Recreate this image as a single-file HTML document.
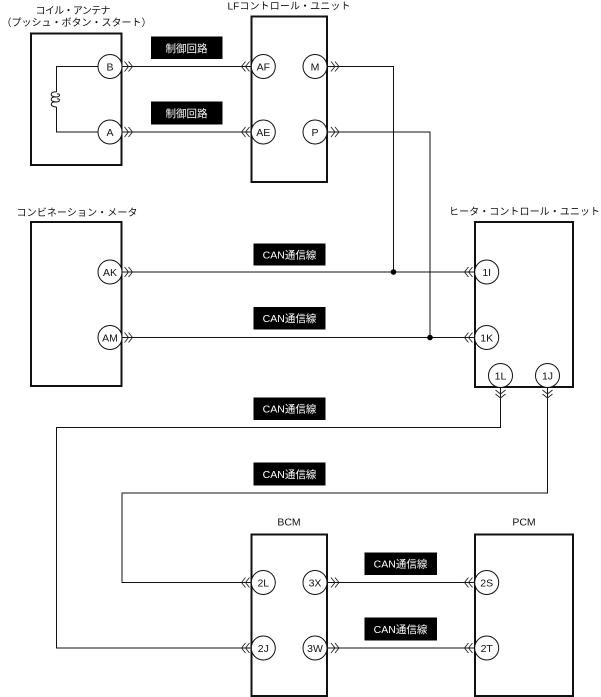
<!DOCTYPE html>
<html lang="ja">
<head>
<meta charset="utf-8">
<style>
html,body{margin:0;padding:0;background:#fff}
svg{display:block}
text{font-family:"Liberation Sans","Noto Sans CJK JP",sans-serif;font-size:10.5px;fill:#111;text-anchor:middle}
.t{font-size:10px}
.w{fill:#fff}
.b{fill:none;stroke:#111;stroke-width:2}
.l{fill:none;stroke:#111;stroke-width:1}
.c{fill:#fff;stroke:#111;stroke-width:1}
.a{fill:none;stroke:#222;stroke-width:.9}
</style>
</head>
<body>
<svg width="601" height="697" viewBox="0 0 601 697" xmlns="http://www.w3.org/2000/svg">
<!-- connectors -->
<path class="l" d="M121 66.5H251M121 132H251"/>
<path class="l" d="M327 66.5H393.5V272M327 132H430V337.5"/>
<path class="l" d="M121 272H475M121 337.5H475"/>
<path class="l" d="M500.5 387V427.5H56.5V648H251"/>
<path class="l" d="M547.5 387V493H122V582.5H251"/>
<path class="l" d="M327 582.5H475M327 648H475"/>
<!-- coil wiring -->
<path class="l" d="M110 66.5H56.5V92M110 132H56.5V107"/>
<path class="l" d="M56.5 92C50 91 49 97 56 97C61 97 60 93 57 94M56.5 97C50 96 49 102 56 102C61 102 60 98 57 99M56.5 102C50 101 49 107 56.5 107"/>
<circle cx="393.5" cy="272" r="2.8" fill="#000"/>
<circle cx="430" cy="337.5" r="2.8" fill="#000"/>
<!-- boxes -->
<rect class="b" x="31" y="33.5" width="90.5" height="131.5"/>
<rect class="b" x="251.5" y="16.5" width="75.5" height="165.5"/>
<rect class="b" x="31" y="222" width="90.5" height="164"/>
<rect class="b" x="475" y="222" width="98" height="165"/>
<rect class="b" x="251.5" y="534.5" width="75.5" height="161.5"/>
<rect class="b" x="475" y="534.5" width="98" height="161.5"/>
<!-- right-pointing chevrons -->
<path class="a" d="M124.500 61.500L128.500 66.500L124.500 71.500M128.500 61.500L132.500 66.500L128.500 71.500"/>
<path class="a" d="M124.500 127L128.500 132L124.500 137M128.500 127L132.500 132L128.500 137"/>
<path class="a" d="M331 61.500L335 66.500L331 71.500M335 61.500L339 66.500L335 71.500"/>
<path class="a" d="M331 127L335 132L331 137M335 127L339 132L335 137"/>
<path class="a" d="M124.500 267L128.500 272L124.500 277M128.500 267L132.500 272L128.500 277"/>
<path class="a" d="M124.500 332.500L128.500 337.500L124.500 342.500M128.500 332.500L132.500 337.500L128.500 342.500"/>
<path class="a" d="M331 577.500L335 582.500L331 587.500M335 577.500L339 582.500L335 587.500"/>
<path class="a" d="M331 643L335 648L331 653M335 643L339 648L335 653"/>
<!-- left-pointing chevrons -->
<path class="a" d="M245.500 61.500L241.500 66.500L245.500 71.500M249.500 61.500L245.500 66.500L249.500 71.500"/>
<path class="a" d="M245.500 127L241.500 132L245.500 137M249.500 127L245.500 132L249.500 137"/>
<path class="a" d="M468.500 267L464.500 272L468.500 277M472.500 267L468.500 272L472.500 277"/>
<path class="a" d="M468.500 332.500L464.500 337.500L468.500 342.500M472.500 332.500L468.500 337.500L472.500 342.500"/>
<path class="a" d="M245.500 577.500L241.500 582.500L245.500 587.500M249.500 577.500L245.500 582.500L249.500 587.500"/>
<path class="a" d="M245.500 643L241.500 648L245.500 653M249.500 643L245.500 648L249.500 653"/>
<path class="a" d="M468.500 577.500L464.500 582.500L468.500 587.500M472.500 577.500L468.500 582.500L472.500 587.500"/>
<path class="a" d="M468.500 643L464.500 648L468.500 653M472.500 643L468.500 648L472.500 653"/>
<!-- down-pointing chevrons -->
<path class="a" d="M495.500 390L500.500 394L505.500 390M495.500 394L500.500 398L505.500 394"/>
<path class="a" d="M542.500 390L547.500 394L552.500 390M542.500 394L547.500 398L552.500 394"/>
<!-- terminals -->
<g>
<circle class="c" cx="110" cy="66.500" r="12"/><circle class="c" cx="110" cy="132" r="12"/>
<circle class="c" cx="263.300" cy="66.500" r="12"/><circle class="c" cx="263.300" cy="132" r="12"/>
<circle class="c" cx="315" cy="66.500" r="12"/><circle class="c" cx="315" cy="132" r="12"/>
<circle class="c" cx="110" cy="272" r="12"/><circle class="c" cx="110" cy="337.500" r="12"/>
<circle class="c" cx="486.700" cy="272" r="12"/><circle class="c" cx="486.700" cy="337.500" r="12"/>
<circle class="c" cx="500.500" cy="375.500" r="12"/><circle class="c" cx="547.500" cy="375.500" r="12"/>
<circle class="c" cx="263.300" cy="582.500" r="12"/><circle class="c" cx="315" cy="582.500" r="12"/>
<circle class="c" cx="263.300" cy="648" r="12"/><circle class="c" cx="315" cy="648" r="12"/>
<circle class="c" cx="486.700" cy="582.500" r="12"/><circle class="c" cx="486.700" cy="648" r="12"/>
</g>
<text x="110" y="70.500">B</text><text x="110" y="136">A</text>
<text x="263.300" y="70.500">AF</text><text x="263.300" y="136">AE</text>
<text x="315" y="70.500">M</text><text x="315" y="136">P</text>
<text x="110" y="276">AK</text><text x="110" y="341.500">AM</text>
<text x="486.700" y="276">1I</text><text x="486.700" y="341.500">1K</text>
<text x="500.500" y="379.500">1L</text><text x="547.500" y="379.500">1J</text>
<text x="263.300" y="586.500">2L</text><text x="315" y="586.500">3X</text>
<text x="263.300" y="652">2J</text><text x="315" y="652">3W</text>
<text x="486.700" y="586.500">2S</text><text x="486.700" y="652">2T</text>
<!-- black labels -->
<rect x="151" y="36.500" width="71.500" height="22.500" fill="#000"/>
<rect x="151" y="101.500" width="71.500" height="23" fill="#000"/>
<rect x="253.500" y="243.500" width="72" height="22" fill="#000"/>
<rect x="253.500" y="307" width="72" height="22.500" fill="#000"/>
<rect x="253.500" y="397.500" width="72" height="22.500" fill="#000"/>
<rect x="253.500" y="462.500" width="72" height="23" fill="#000"/>
<rect x="364.500" y="552.500" width="72.500" height="22.500" fill="#000"/>
<rect x="364.500" y="617.500" width="72.500" height="23" fill="#000"/>
<text class="w" x="186.500" y="52">制御回路</text>
<text class="w" x="186.500" y="117">制御回路</text>
<text class="w" x="289.500" y="258.500">CAN通信線</text>
<text class="w" x="289.500" y="322">CAN通信線</text>
<text class="w" x="289.500" y="412.500">CAN通信線</text>
<text class="w" x="289.500" y="478">CAN通信線</text>
<text class="w" x="400.500" y="567.500">CAN通信線</text>
<text class="w" x="400.500" y="633">CAN通信線</text>
<!-- titles -->
<text class="t" x="73" y="14" textLength="75" lengthAdjust="spacing">コイル・アンテナ</text>
<text class="t" x="76.500" y="26" textLength="150" lengthAdjust="spacing">（プッシュ・ボタン・スタート）</text>
<text class="t" x="289" y="9.500" textLength="123" lengthAdjust="spacing">LFコントロール・ユニット</text>
<text class="t" x="77" y="216" textLength="121" lengthAdjust="spacing">コンビネーション・メータ</text>
<text class="t" x="524.500" y="215" textLength="151" lengthAdjust="spacing">ヒータ・コントロール・ユニット</text>
<text x="289" y="525.500">BCM</text>
<text x="524" y="525.500">PCM</text>
</svg>
</body>
</html>
